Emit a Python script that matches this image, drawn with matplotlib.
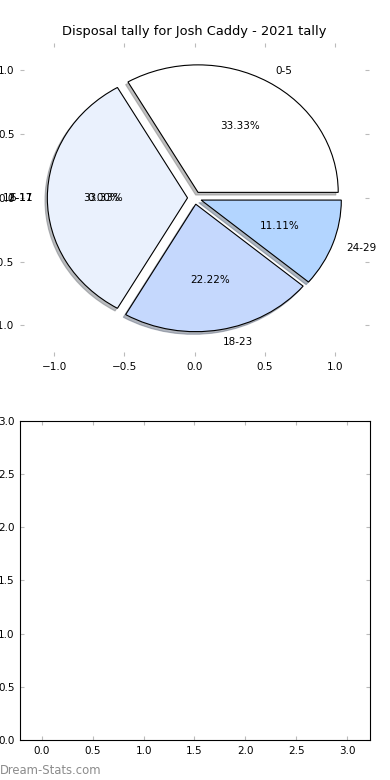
import matplotlib
matplotlib.use('Agg')
import matplotlib.pyplot as plt

# Disposal ranges with games played in each (Josh Caddy, 2021)
age_groups = ['0-5', '12-17', '18-23', '24-29']
games = [3, 3, 2, 1]
wedge_colors = ['#ffffff', '#eaf1fd', '#c5d8fd', '#b3d5ff']
explode = [0.05, 0.05, 0.05, 0.05]

# empty range whose label ends up piled on top of the 12-17 label
empty_groups = ['6-11']
empty_pcts = ['0.00%']

x_ticks = [-1.0, -0.5, 0.0, 0.5, 1.0]
y_ticks = [-1.0, -0.5, 0.0, 0.5, 1.0]
bottom_ticks = [0.0, 0.5, 1.0, 1.5, 2.0, 2.5, 3.0]

fig = plt.figure(figsize=(3.9, 7.8), dpi=100)

# top: pie chart
ax1 = fig.add_axes([0.0513, 0.5436, 0.895, 0.4013])
wedges, texts, autotexts = ax1.pie(
    games, labels=age_groups, colors=wedge_colors, explode=explode,
    autopct='%.2f%%', startangle=0,
    shadow={'ox': -0.012, 'oy': -0.015, 'shade': 0.5},
    wedgeprops={'linewidth': 0.8, 'edgecolor': 'black'},
    textprops={'fontsize': 7.5})
ax1.set_aspect('auto')
ax1.set_frame_on(False)
ax1.set_xlim(-1.245, 1.245)
ax1.set_ylim(-1.24, 1.215)
ax1.set_xticks(x_ticks)
ax1.set_yticks(y_ticks)
ax1.tick_params(direction='in', length=3, color='#bbbbbb', labelsize=7.5,
                top=True, right=True, pad=4)
ax1.set_title('Disposal tally for Josh Caddy - 2021 tally', fontsize=9.4, pad=6)

lbl = texts[age_groups.index('12-17')]
pct = autotexts[age_groups.index('12-17')]
for name, p in zip(empty_groups, empty_pcts):
    ax1.text(*lbl.get_position(), name, ha='right', va='center', fontsize=7.5)
    ax1.text(*pct.get_position(), p, ha='center', va='center', fontsize=7.5)

# bottom: empty axes
ax2 = fig.add_axes([0.0513, 0.0513, 0.8974, 0.409])
ax2.set_xlim(-0.215, 3.225)
ax2.set_ylim(0, 3)
ax2.set_xticks(bottom_ticks)
ax2.set_yticks(bottom_ticks)
ax2.tick_params(direction='in', length=3, color='#bbbbbb', labelsize=7.5,
                top=True, right=True, pad=4)

fig.text(0.0, 0.004, 'Dream-Stats.com', color='#8c8c8c', fontsize=8.4,
         va='bottom')

fig.savefig('out.png', dpi=100)
